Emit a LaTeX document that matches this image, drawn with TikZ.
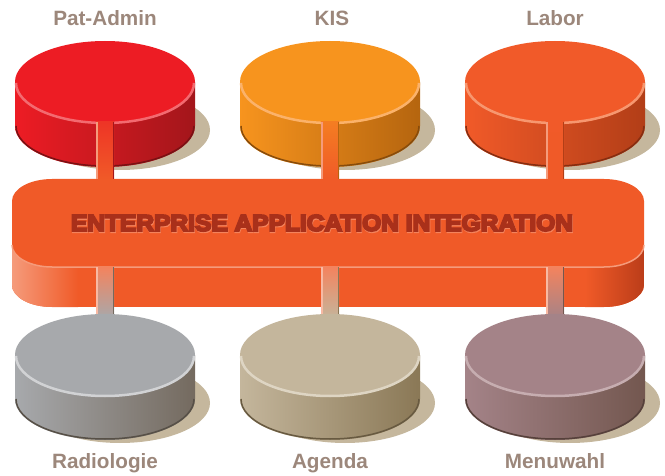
\documentclass[tikz,border=0pt]{standalone}
\usepackage{fontspec}
\setmainfont{Liberation Sans}
\newfontfamily\eaiface{Liberation Sans}[BoldFeatures={FakeBold=8}]
\usepackage{graphicx}

\definecolor{labelbrown}{HTML}{9C877B}
\definecolor{shadowbeige}{HTML}{C5B79D}
\definecolor{eaiorange}{HTML}{F05A28}
\definecolor{eailight}{HTML}{F59B7B}
\definecolor{eaidark}{HTML}{BB3D19}
\definecolor{eaitext}{HTML}{A9301A}
\definecolor{eaiglow}{HTML}{F4835C}
\definecolor{patTop}{HTML}{ED1C24} \definecolor{patDark}{HTML}{A3161B} \definecolor{patRim}{HTML}{F36A70}
\definecolor{kisTop}{HTML}{F7941E} \definecolor{kisDark}{HTML}{B5650F} \definecolor{kisRim}{HTML}{FBB26A}
\definecolor{labTop}{HTML}{F15A29} \definecolor{labDark}{HTML}{B23E17} \definecolor{labRim}{HTML}{F7976F}
\definecolor{radTop}{HTML}{A7A9AC} \definecolor{radDark}{HTML}{746A5F} \definecolor{radRim}{HTML}{D1D2D4}
\definecolor{ageTop}{HTML}{C4B69C} \definecolor{ageDark}{HTML}{8A7856} \definecolor{ageRim}{HTML}{DED5C3}
\definecolor{menTop}{HTML}{A48388} \definecolor{menDark}{HTML}{73574F} \definecolor{menRim}{HTML}{C6ADB0}

\tikzset{
  labeltext/.style={font=\bfseries\fontsize{20.7}{24}\selectfont, text=labelbrown, anchor=base},
  eaifont/.style={font=\eaiface\bfseries\fontsize{21}{24}\selectfont},
}

\newcommand{\dbdisk}[1]{%
  \fill[shadowbeige] ([shift={(15,-48)}]#1) ellipse [x radius=90pt, y radius=40pt];
  \shade[left color=#1Top, right color=#1Dark] ([xshift=-90pt]#1) -- ++(0,-44)
    arc [start angle=180, end angle=360, x radius=90pt, y radius=41pt] -- ++(0,44) -- cycle;
  \draw[#1Dark!75!black, line width=1.5pt] ([shift={(-89,-44)}]#1)
    arc [start angle=180, end angle=360, x radius=89pt, y radius=40pt];
  \fill[#1Top] (#1) ellipse [x radius=90pt, y radius=41pt];
  \draw[#1Rim, line width=2.5pt] ([shift={(-89,-1)}]#1)
    arc [start angle=180, end angle=360, x radius=89pt, y radius=40pt];
}

\begin{document}
\begin{tikzpicture}[x=1pt,y=1pt]
\useasboundingbox (0,0) rectangle (665,475);

\coordinate (pat) at (105,393);
\coordinate (kis) at (330,393);
\coordinate (lab) at (555,393);
\coordinate (rad) at (105,120);
\coordinate (age) at (330,120);
\coordinate (men) at (555,120);
\coordinate (bartop) at (328,296);
\coordinate (barface) at (328,208);

\dbdisk{pat} \dbdisk{kis} \dbdisk{lab}

\begin{scope}
  \clip (12,274) -- (12,190) arc [start angle=180, end angle=270, x radius=40pt, y radius=22pt]
    -- (604,168) arc [start angle=270, end angle=360, x radius=40pt, y radius=22pt] -- (644,274) -- cycle;
  \fill[eaiorange] (12,168) rectangle (644,274);
  \shade[left color=eailight, right color=eaiorange] (12,168) rectangle (78,274);
  \shade[left color=eaiorange, right color=eaidark] (585,168) rectangle (644,274);
\end{scope}
\fill[eaiorange] (52,296) -- (604,296) arc [start angle=90, end angle=0, x radius=40pt, y radius=22pt]
  -- (644,230) arc [start angle=0, end angle=-90, x radius=40pt, y radius=22pt]
  -- (52,208) arc [start angle=270, end angle=180, x radius=40pt, y radius=22pt]
  -- (12,274) arc [start angle=180, end angle=90, x radius=40pt, y radius=22pt] -- cycle;
\draw[eailight, line width=1.5pt] (12,230) arc [start angle=180, end angle=270, x radius=40pt, y radius=22pt]
  -- (604,208) arc [start angle=270, end angle=360, x radius=40pt, y radius=22pt];

\node[eaifont, text=eaiglow] (eaiglow) at (322.6,250.8)
  {\resizebox{502pt}{16pt}{ENTERPRISE APPLICATION INTEGRATION}};
\node[eaifont, text=eaitext] (eai) at (322,252)
  {\resizebox{502pt}{16pt}{ENTERPRISE APPLICATION INTEGRATION}};

\foreach \disk in {pat,kis,lab}{
  \shade[top color=\disk Top!60!eaiorange, bottom color=eaiorange] ([shift={(-9,-40)}]\disk) rectangle ([xshift=9pt]\disk |- bartop);
  \draw[eailight, line width=1.5pt] ([shift={(-8.25,-40)}]\disk) -- ([xshift=-8.25pt]\disk |- bartop);
  \draw[\disk Dark, line width=1.5pt] ([shift={(8.25,-40)}]\disk) -- ([xshift=8.25pt]\disk |- bartop);
}
\foreach \disk in {rad,age,men}{
  \shade[top color=eaiorange!75!white, bottom color=\disk Top] ([xshift=-9pt]\disk |- barface) rectangle ([shift={(9,36)}]\disk);
  \draw[eailight!70!white, line width=1.5pt] ([xshift=-8.25pt]\disk |- barface) -- ([shift={(-8.25,36)}]\disk);
  \draw[\disk Dark, line width=1.5pt] ([xshift=8.25pt]\disk |- barface) -- ([shift={(8.25,36)}]\disk);
}

\dbdisk{rad} \dbdisk{age} \dbdisk{men}

\node[labeltext] (patlabel) at (105,449) {Pat-Admin};
\node[labeltext] (kislabel) at (332,449) {KIS};
\node[labeltext] (lablabel) at (555,449) {Labor};
\node[labeltext] (radlabel) at (105,7) {Radiologie};
\node[labeltext] (agelabel) at (330,7) {Agenda};
\node[labeltext] (menlabel) at (555,7) {Menuwahl};
\end{tikzpicture}
\end{document}
